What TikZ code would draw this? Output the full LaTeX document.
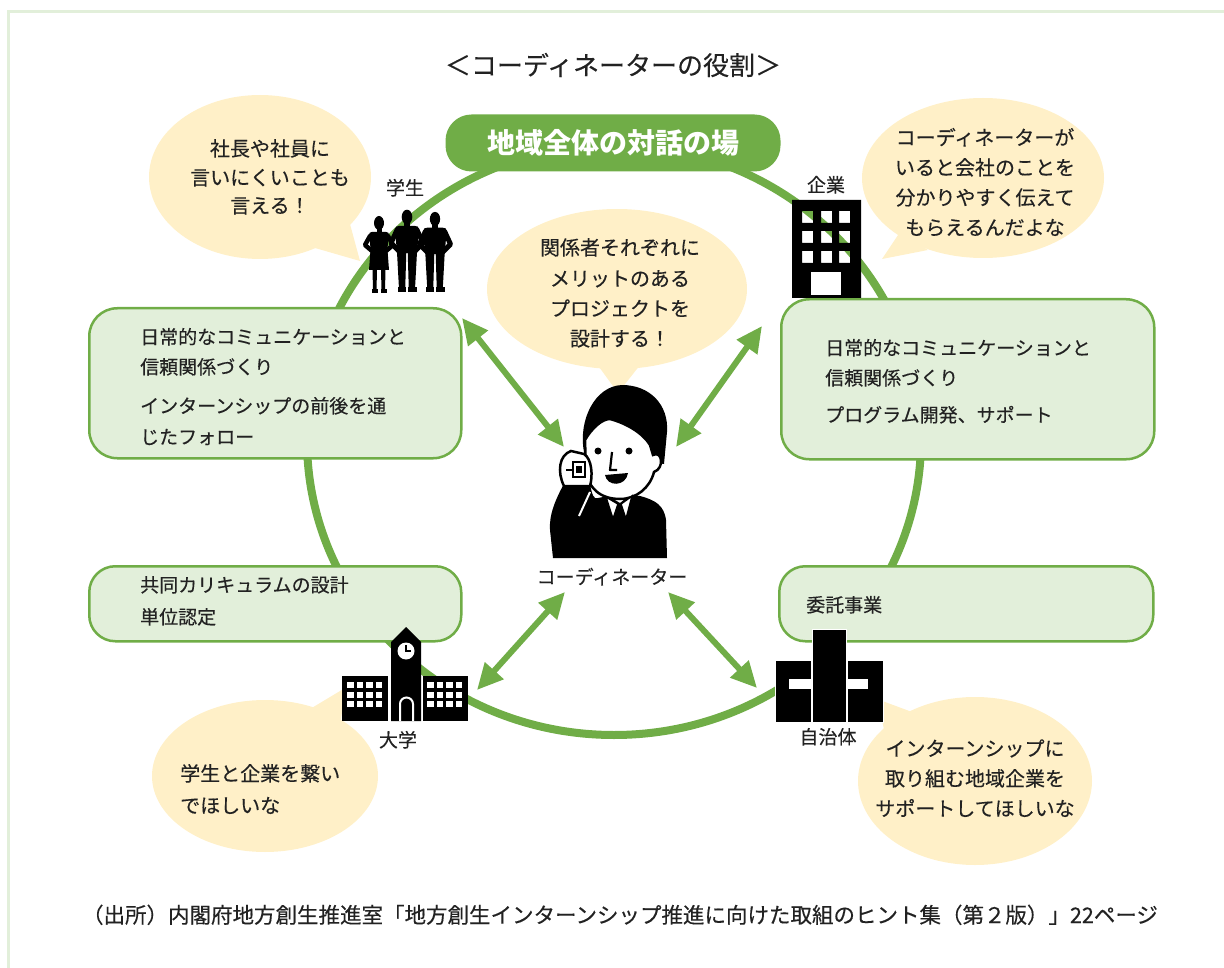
\documentclass[tikz,border=0pt]{standalone}
\usepackage{fontspec}
\setmainfont{Noto Sans CJK JP}[UprightFeatures={FakeBold=0.3}]
\usetikzlibrary{arrows.meta,shapes.geometric}

\definecolor{ring}{HTML}{70AD47}
\definecolor{boxfill}{HTML}{E2EFDA}
\definecolor{bubble}{HTML}{FFF0C8}
\definecolor{framecol}{HTML}{E2EFDA}
\definecolor{ink}{HTML}{222222}

\tikzset{
  role/.style={draw=ring, fill=boxfill, line width=2.5pt, rounded corners=28pt, inner sep=0pt, anchor=north west},
  speech/.style={ellipse, fill=bubble, inner sep=0pt},
  boxtxt/.style={font=\fontsize{19}{22}\selectfont, inner sep=0pt, text=ink, anchor=base west},
  saytxt/.style={font=\fontsize{20}{24}\selectfont, inner sep=0pt, text=ink, anchor=base},
  tag/.style={font=\fontsize{19}{22}\selectfont, inner sep=0pt, text=ink, anchor=base},
  link/.style={ring, line width=6pt, {Triangle[length=26pt,width=24pt]}-{Triangle[length=26pt,width=24pt]}},
  pics/man/.style={code={
    \fill (0,0) ellipse [x radius=5.3pt, y radius=7.3pt];
    \fill (-3,5) rectangle (3,10);
    \fill (-12,12) .. controls (-12,9.5) and (-10,9) .. (-8,9) -- (8,9)
          .. controls (10,9) and (12,9.5) .. (12,12) -- (10,36) -- (-10,36) -- cycle;
    \draw[line width=5pt, line join=round, line cap=round] (-10,13) -- (-16,26) -- (-8,34);
    \draw[line width=5pt, line join=round, line cap=round] (10,13) -- (16,26) -- (8,34);
    \fill (-10,35) -- (-0.7,35) -- (-1.8,72) -- (-8,72) -- cycle;
    \fill (0.7,35) -- (10,35) -- (8,72) -- (1.8,72) -- cycle;
    \fill (-9.5,70) rectangle (-1.2,75);
    \fill (1.2,70) rectangle (10,75);
  }},
  pics/woman/.style={code={
    \fill (0,0) ellipse [x radius=5pt, y radius=7pt];
    \fill (-2.5,5) rectangle (2.5,10);
    \fill (-10,12) .. controls (-10,10) and (-9,9) .. (-7,9) -- (7,9)
          .. controls (9,9) and (10,10) .. (10,12) -- (8,29) -- (-8,29) -- cycle;
    \draw[line width=4.5pt, line join=round, line cap=round] (-9,13) -- (-14,22) -- (-7,28);
    \draw[line width=4.5pt, line join=round, line cap=round] (9,13) -- (14,22) -- (7,28);
    \fill (-8.5,27) -- (8.5,27) -- (10,47) -- (-10,47) -- cycle;
    \fill (-6.5,46) -- (-2,46) -- (-2.5,68) -- (-6,68) -- cycle;
    \fill (2,46) -- (6.5,46) -- (6,68) -- (2.5,68) -- cycle;
    \fill (-7.5,66.5) rectangle (-1.5,70);
    \fill (1.5,66.5) rectangle (7.5,70);
  }},
}

\begin{document}
\begin{tikzpicture}[x=1pt, y=-1pt]
\useasboundingbox (0,0) rectangle (1224,968);

% page frame
\draw[framecol, line width=3pt] (8,968) -- (8,12) -- (1224,12);

% heading
\node[font=\fontsize{26}{29}\selectfont, inner sep=0pt, text=ink, anchor=base] (title) at (613,75) {＜コーディネーターの役割＞};

% the big ring
\draw[ring, line width=8pt] (614,440) ellipse [x radius=307pt, y radius=295pt];

% banner on top of the ring
\node[fill=ring, rounded corners=26pt, minimum width=335pt, minimum height=57pt, inner sep=0pt,
      text=white, font=\bfseries\fontsize{28}{31}\selectfont] (stage) at (613,143) {地域全体の対話の場};

% speech bubbles
\fill[bubble] (315,248) -- (360,261) -- (350,224) -- cycle;
\node[speech, minimum width=222pt, minimum height=164pt] (say1) at (260,177) {};
\fill[bubble] (900,232) -- (882,259) -- (928,250) -- cycle;
\node[speech, minimum width=242pt, minimum height=160pt] (say2) at (983,178) {};
\fill[bubble] (594,360) -- (618,393) -- (644,360) -- cycle;
\node[speech, minimum width=260pt, minimum height=160pt] (say3) at (617,289) {};
\fill[bubble] (305,712) -- (345,688) -- (340,728) -- cycle;
\node[speech, minimum width=226pt, minimum height=152pt] (say4) at (265,776) {};
\fill[bubble] (886,738) -- (877,699) -- (912,712) -- cycle;
\node[speech, minimum width=234pt, minimum height=168pt] (say5) at (975,781) {};

\node[saytxt] (s1a) at (270,156) {社長や社員に};
\node[saytxt] (s1b) at (270,185) {言いにくいことも};
\node[saytxt] (s1c) at (270,213) {言える！};

\node[saytxt] (s2a) at (985,145) {コーディネーターが};
\node[saytxt] (s2b) at (985,175) {いると会社のことを};
\node[saytxt] (s2c) at (985,205) {分かりやすく伝えて};
\node[saytxt] (s2d) at (985,235) {もらえるんだよな};

\node[saytxt] (s3a) at (620,255) {関係者それぞれに};
\node[saytxt] (s3b) at (620,286) {メリットのある};
\node[saytxt] (s3c) at (620,316) {プロジェクトを};
\node[saytxt] (s3d) at (620,346) {設計する！};

\node[saytxt, anchor=base west] (s4a) at (180,781) {学生と企業を繋い};
\node[saytxt, anchor=base west] (s4b) at (180,813) {でほしいな};

\node[saytxt] (s5a) at (975,756) {インターンシップに};
\node[saytxt] (s5b) at (975,786) {取り組む地域企業を};
\node[saytxt] (s5c) at (975,816) {サポートしてほしいな};

% role boxes
\node[role, minimum width=372pt, minimum height=150pt] (boxA) at (88,307) {};
\node[boxtxt] (a1) at (140,344) {日常的なコミュニケーションと};
\node[boxtxt] (a2) at (140,374) {信頼関係づくり};
\node[boxtxt] (a3) at (140,413) {インターンシップの前後を通};
\node[boxtxt] (a4) at (140,444) {じたフォロー};

\node[role, minimum width=373pt, minimum height=160pt] (boxB) at (780,298) {};
\node[boxtxt] (b1) at (825,355) {日常的なコミュニケーションと};
\node[boxtxt] (b2) at (825,385) {信頼関係づくり};
\node[boxtxt] (b3) at (825,422) {プログラム開発、サポート};

\node[role, rounded corners=26pt, minimum width=372pt, minimum height=75pt] (boxC) at (88,565) {};
\node[boxtxt] (c1) at (140,592) {共同カリキュラムの設計};
\node[boxtxt] (c2) at (140,624) {単位認定};

\node[role, rounded corners=26pt, minimum width=374pt, minimum height=75pt] (boxD) at (778,565) {};
\node[boxtxt] (d1) at (806,612) {委託事業};

% students
\node[tag] (lblstu) at (405,195) {学生};
\pic at (379,223) {woman};
\pic at (407,217) {man};
\pic[scale=0.97] at (435,219) {man};

% company building (windows are cut out of the block)
\node[tag] (lblco) at (826,192) {企業};
\fill[even odd rule] (792,200) rectangle (861,298)
  \foreach \cx in {802,821,839} { \foreach \cy in {211,231,251} { (\cx,\cy) rectangle ++(11,12) } };
\fill[white] (811,272) rectangle (841,295);

% university
\fill (391,642) -- (406,627) -- (421,642) -- (421,721) -- (391,721) -- cycle;
\fill[white] (406,651) circle [radius=8.5pt];
\draw[line width=1.3pt] (406,645) -- (406,651) -- (411,651);
\draw[white, line width=2pt] (400,721) -- (400,704) arc [start angle=180, end angle=0, radius=6.5pt] -- (413,721);
\fill (342,676) rectangle (388,721);
\fill (423,676) rectangle (468,721);
\foreach \cy in {682,691.5,701} {
  \foreach \cx in {347,356.5,366,375.5} {\fill[white] (\cx,\cy) rectangle ++(6.5,6);}
  \foreach \cx in {427,436.5,446,455.5} {\fill[white] (\cx,\cy) rectangle ++(6.5,6);}
}
\node[tag] (lbluni) at (398,747) {大学};

% town hall
\filldraw[draw=white, line width=1pt] (812,629) rectangle (846,722);
\filldraw[draw=white, line width=1pt] (775,660) rectangle (811,722);
\filldraw[draw=white, line width=1pt] (847,660) rectangle (883,722);
\fill[white] (789,679) rectangle (811.5,689);
\fill[white] (846.5,679) rectangle (868,689);
\node[tag] (lbltown) at (828,744) {自治体};

% coordinator on the phone
\fill (584,452) .. controls (578,420) and (595,386) .. (622,385)
      .. controls (650,385) and (669,405) .. (667,432) -- (664,464) -- cycle;
\fill (565,482) .. controls (555,500) and (549,515) .. (550,530) -- (553,558) -- (667,558)
      -- (666,520) .. controls (664,505) and (655,500) .. (640,496) -- (630,495)
      -- (620,503) -- (608,496) -- (598,498) .. controls (594,500) and (592,495) .. (590,484) -- cycle;
\draw[white, line width=2pt] (590,492) -- (579,516);
\filldraw[fill=white, draw=black, line width=2.5pt]
      (585,440) .. controls (592,428) and (602,419) .. (610,419)
      .. controls (625,423) and (642,432) .. (650,445) -- (653,455)
      .. controls (662,450) and (665,468) .. (654,472)
      .. controls (650,488) and (636,499) .. (620,499)
      .. controls (600,499) and (588,488) .. (586,470) -- cycle;
\filldraw[fill=white, draw=black, line width=1.5pt] (606,497) -- (618,504) -- (613,519) -- cycle;
\filldraw[fill=white, draw=black, line width=1.5pt] (632,496) -- (621,504) -- (626,519) -- cycle;
\fill (617.5,506) -- (621.5,506) -- (624,530) -- (619.5,535) -- (615,530) -- cycle;
\fill (598,451) circle [radius=3.5pt];
\fill (629,451) circle [radius=3.5pt];
\draw[line width=2.2pt, line join=round] (612,452) -- (610,470) -- (617,470);
\fill (605,475) .. controls (607,487) and (626,487) .. (628,473) -- cycle;
\filldraw[fill=white, draw=black, line width=2.5pt]
      (564,486) .. controls (557,472) and (559,455) .. (571,451) -- (584,454)
      .. controls (592,459) and (593,476) .. (590,486) -- cycle;
\filldraw[fill=white, draw=black, line width=2pt] (573,462) rectangle (585,477);
\fill (576,466) rectangle (582,473);
\draw[line width=1.5pt] (566,470) -- (572,470);
\node[tag] (lblcoord) at (612,584) {コーディネーター};

% arrows between the coordinator and each party
\coordinate (stuEnd) at (462,318);
\coordinate (stuCo) at (564,447);
\coordinate (firmEnd) at (762,326);
\coordinate (firmCo) at (676,447);
\coordinate (uniCo) at (565,592);
\coordinate (uniEnd) at (477,690);
\coordinate (townCo) at (668,592);
\coordinate (townEnd) at (757,688);
\draw[link] (stuEnd) -- (stuCo);
\draw[link] (firmEnd) -- (firmCo);
\draw[link] (uniCo) -- (uniEnd);
\draw[link] (townCo) -- (townEnd);

% source note
\node[font=\fontsize{21.5}{24}\selectfont, inner sep=0pt, text=ink, anchor=base] (source) at (620,923)
  {（出所）内閣府地方創生推進室「地方創生インターンシップ推進に向けた取組のヒント集（第２版）」22ページ};
\end{tikzpicture}
\end{document}
